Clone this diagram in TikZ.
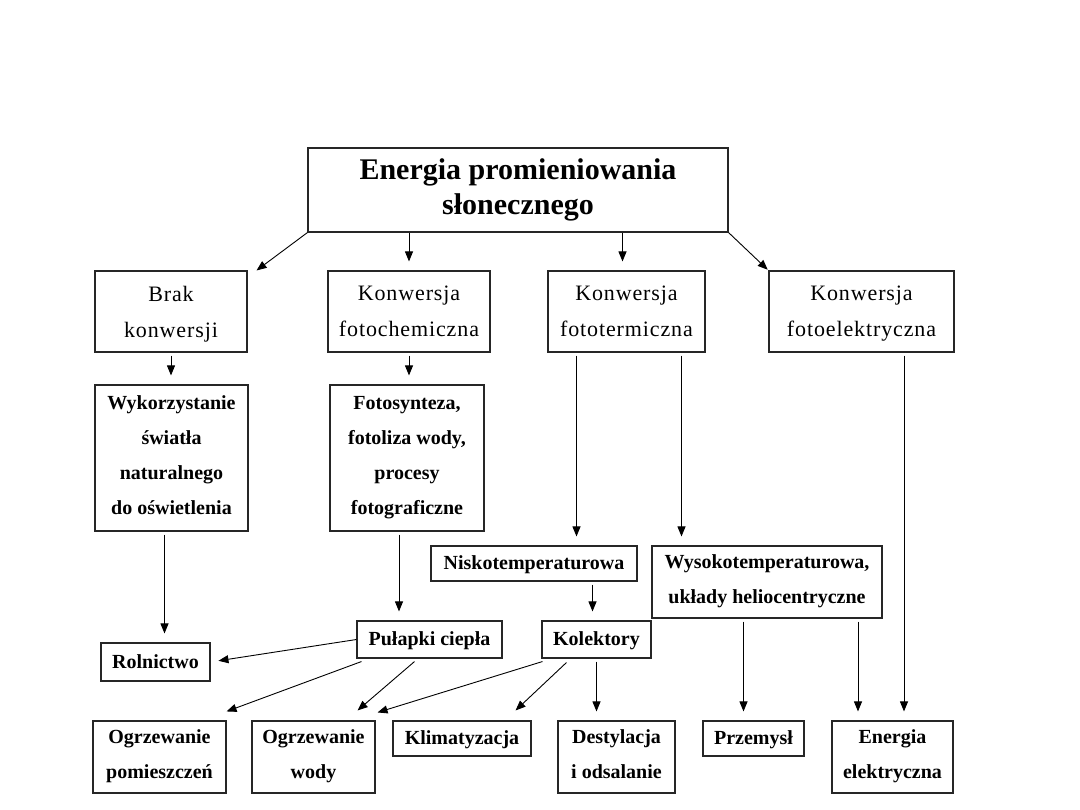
\documentclass[tikz,border=0pt]{standalone}
\usepackage{fontspec}
\setmainfont{Liberation Serif}
\newfontfamily\rozstaw[LetterSpace=4]{Liberation Serif}
\usetikzlibrary{arrows.meta}

\begin{document}
\begin{tikzpicture}[x=1pt,y=-1pt,line width=0.9pt,>={Triangle[length=10pt,width=8pt]},
  box/.style={draw=black!85,line width=1.1pt,inner sep=0pt,align=center,
    text depth=5pt,font=\fontsize{20}{35}\selectfont\bfseries},
  jedna/.style={text depth=1pt},
  zwykly/.style={text depth=-8pt,font=\rozstaw\fontsize{22}{36}\selectfont},
  pion/.style={->,shorten <=3pt,shorten >=9pt},
  skos/.style={->}]
  \useasboundingbox (0,0) rectangle (1080,810);
  % poziom 1 i 2
  \node[box,minimum width=420,minimum height=84,text depth=6pt,
    font=\fontsize{30}{35}\selectfont\bfseries]
    (top) at (518,190) {Energia promieniowania\\słonecznego};
  \node[box,zwykly,minimum width=152,minimum height=81] (brak) at (171,311.5) {Brak\\konwersji};
  \node[box,zwykly,minimum width=162,minimum height=81] (fchem) at (409,311.5) {Konwersja\\fotochemiczna};
  \node[box,zwykly,minimum width=157,minimum height=81] (fterm) at (626.5,311.5) {Konwersja\\fototermiczna};
  \node[box,zwykly,minimum width=185,minimum height=81] (felek) at (861.5,311.5) {Konwersja\\fotoelektryczna};
  % poziom 3
  \node[box,minimum width=153,minimum height=146] (wyk) at (171.5,458) {Wykorzystanie\\światła\\naturalnego\\do oświetlenia};
  \node[box,minimum width=154,minimum height=146] (fotos) at (407,458) {Fotosynteza,\\fotoliza wody,\\procesy\\fotograficzne};
  \node[box,jedna,minimum width=206,minimum height=35] (nisko) at (534,563.5) {Niskotemperaturowa};
  \node[box,minimum width=230,minimum height=72] (wysoko) at (767,582) {Wysokotemperaturowa,\\układy heliocentryczne};
  \node[box,jedna,minimum width=109,minimum height=38] (rol) at (155.5,662) {Rolnictwo};
  \node[box,jedna,minimum width=145,minimum height=37] (pul) at (429.5,639.5) {Pułapki ciepła};
  \node[box,jedna,minimum width=109,minimum height=37] (kol) at (596.5,639.5) {Kolektory};
  % dolny rząd
  \node[box,minimum width=133,minimum height=72] (opom) at (159.5,757) {Ogrzewanie\\pomieszczeń};
  \node[box,minimum width=123,minimum height=72] (owod) at (313.5,757) {Ogrzewanie\\wody};
  \node[box,jedna,minimum width=138,minimum height=35] (klim) at (462,738.5) {Klimatyzacja};
  \node[box,minimum width=117,minimum height=72] (dest) at (616.5,757) {Destylacja\\i odsalanie};
  \node[box,jedna,minimum width=101,minimum height=35] (prz) at (753.5,738.5) {Przemysł};
  \node[box,minimum width=121,minimum height=72] (ener) at (892.5,757) {Energia\\elektryczna};
  % strzałki
  \draw[skos] (top.south west) -- ([xshift=9pt]brak.north east);
  \draw[pion,shorten <=0pt] (top.south -| fchem.north) -- (fchem.north);
  \draw[pion,shorten <=0pt] ([xshift=-4pt]top.south -| fterm.north) -- ([xshift=-4pt]fterm.north);
  \draw[skos,shorten >=1pt] (top.south east) -- (felek.north west);
  \draw[pion] (brak.south) -- (brak.south |- wyk.north);
  \draw[pion] (fchem.south) -- (fchem.south |- fotos.north);
  \draw[pion] ([xshift=-50pt]fterm.south) -- ([xshift=-50pt]fterm.south |- nisko.north);
  \draw[pion] ([xshift=55pt]fterm.south) -- ([xshift=55pt]fterm.south |- wysoko.north);
  \draw[pion] ([xshift=42.5pt]felek.south) -- ([xshift=42.5pt]felek.south |- ener.north);
  \draw[pion] ([xshift=-7pt]wyk.south) -- ([xshift=-7pt]wyk.south |- rol.north);
  \draw[pion] ([xshift=-8pt]fotos.south) -- ([xshift=-8pt]fotos.south |- pul.north);
  \draw[pion] ([xshift=-4pt]kol.north |- nisko.south) -- ([xshift=-4pt]kol.north);
  \draw[skos,shorten >=8pt] (pul.west) -- (rol.east);
  \draw[skos] ([xshift=5pt,yshift=-3pt]pul.south west) -- ([yshift=9pt]opom.north east);
  \draw[skos] ([xshift=-15pt,yshift=-3pt]pul.south) -- ([xshift=-18pt,yshift=10pt]owod.north east);
  \draw[skos] ([xshift=1pt,yshift=-3pt]kol.south west) -- ([xshift=2pt,yshift=8pt]owod.north east);
  \draw[skos] ([xshift=25pt,yshift=-4pt]kol.south west) -- ([xshift=-16pt,yshift=10pt]klim.north east);
  \draw[pion] (kol.south) -- (kol.south |- dest.north);
  \draw[pion] ([xshift=-10pt]prz.north |- wysoko.south) -- ([xshift=-10pt]prz.north);
  \draw[pion] ([xshift=91pt]wysoko.south) -- ([xshift=91pt]wysoko.south |- ener.north);
\end{tikzpicture}
\end{document}
